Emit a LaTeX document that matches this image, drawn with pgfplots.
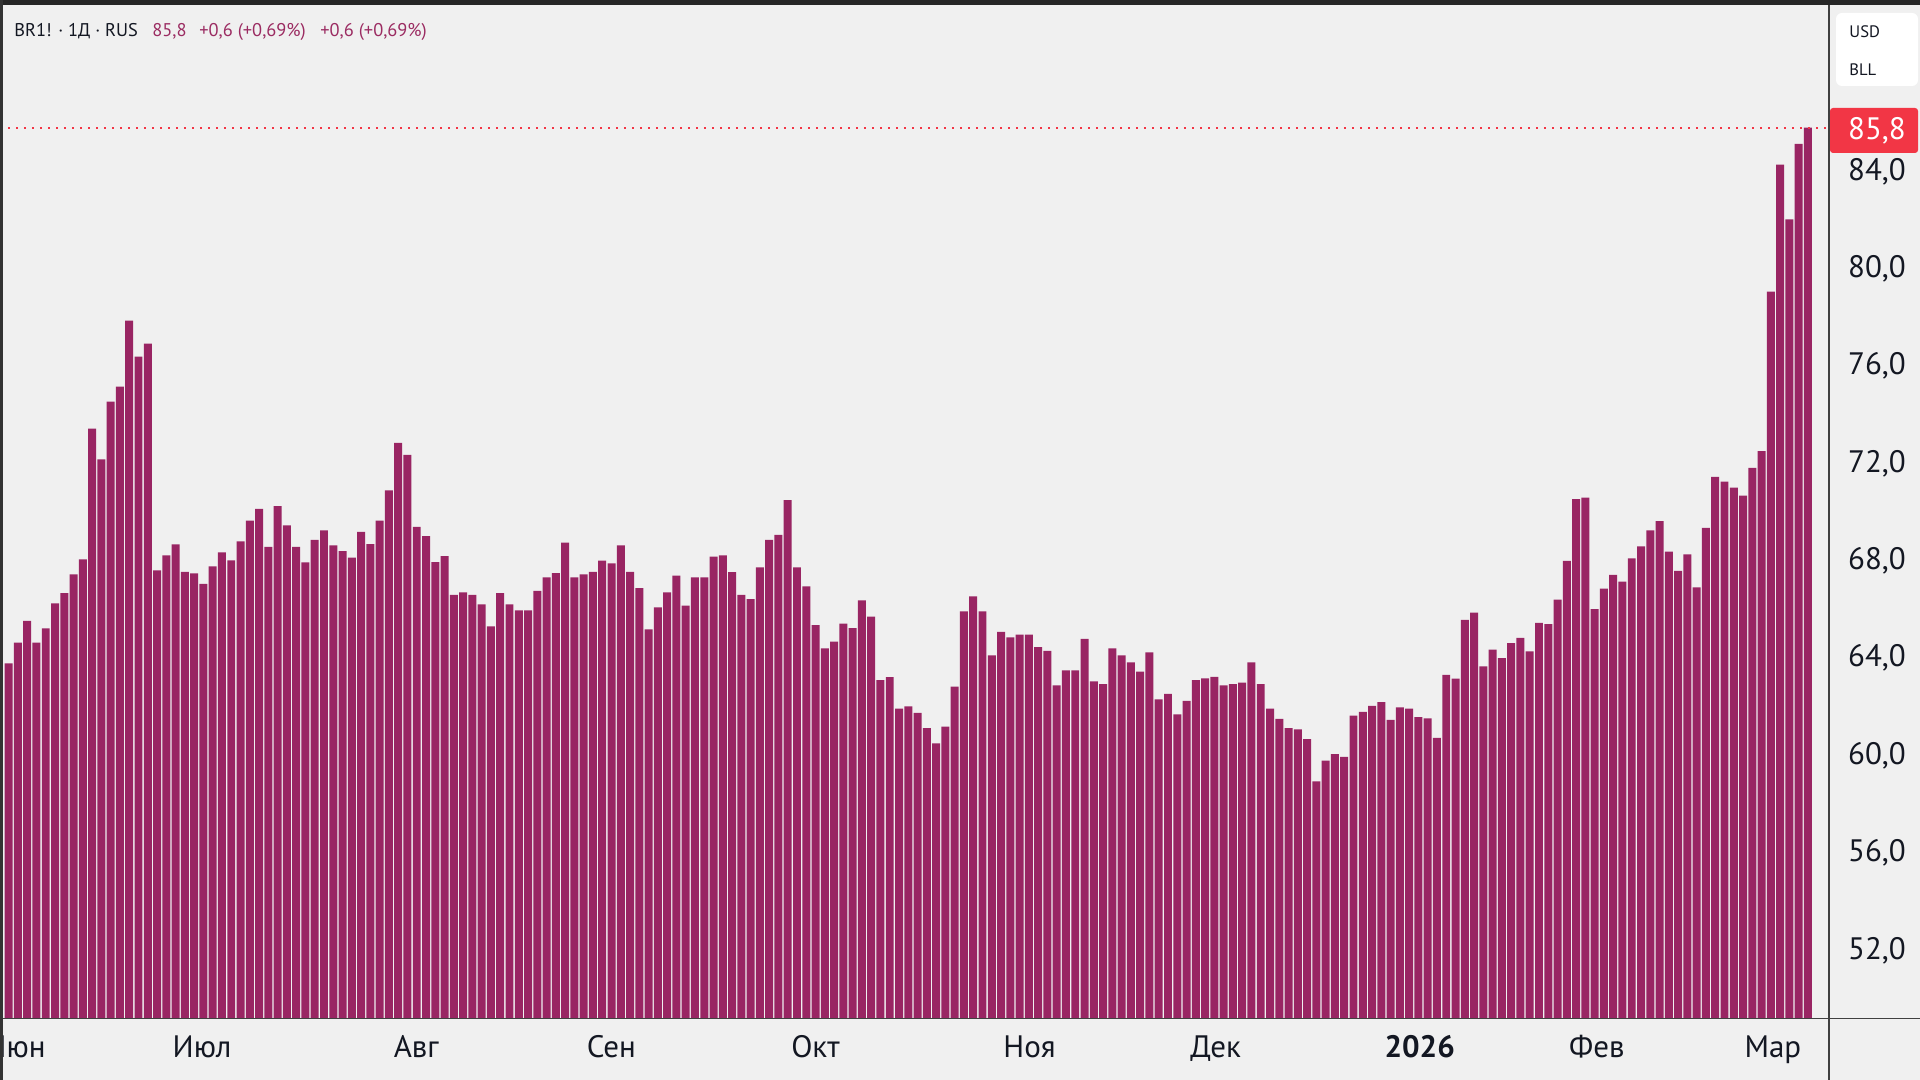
\documentclass[border=0pt]{standalone}
\usepackage{fontspec}
\setmainfont{PT Sans}
\usepackage{pgfplots}
\pgfplotsset{compat=1.18}
\definecolor{bgcol}{HTML}{F0F0F0}
\definecolor{barcol}{HTML}{992563}
\definecolor{hdrcol}{HTML}{9B2C62}
\definecolor{redlab}{HTML}{F23645}
\definecolor{txt}{HTML}{131722}
\begin{document}
\begin{tikzpicture}
\path[use as bounding box] (0,0) rectangle (960pt,540pt);
\clip (0,0) rectangle (960pt,540pt);
\fill[bgcol] (0,0) rectangle (960pt,540pt);
\begin{axis}[
  at={(0pt,30.85pt)}, anchor=south west,
  scale only axis, width=914.5pt, height=509.15pt,
  xmin=0.068, xmax=197.27, ymin=49.21, ymax=91.04,
  axis line style={draw=none},
  major tick length=0pt,
  ytick={52,56,60,64,68,72,76,80,84},
  yticklabel pos=right,
  yticklabel style={anchor=center, xshift=24pt, text=txt,
    font=\fontsize{15.5}{18}\selectfont,
    /pgf/number format/.cd, fixed, fixed zerofill, precision=1, use comma, assume math mode=true},
  xtick={1.74,21.86,44.95,65.98,87.99,111.07,131.14,153.14,172.23,191.22},
  xticklabels={Июн,Июл,Авг,Сен,Окт,Ноя,Дек,\textbf{2026},Фев,Мар},
  xticklabel style={anchor=base, yshift=-19.5pt, text=txt, font=\fontsize{15.5}{18}\selectfont},
  clip=true,
]
\addplot[ybar, bar width=0.86, fill=barcol, draw=none] coordinates {
(1,63.79) (2,64.64) (3,65.53) (4,64.64) (5,65.23) (6,66.25) (7,66.67) (8,67.45) (9,68.06) (10,73.43)
(11,72.17) (12,74.54) (13,75.16) (14,77.87) (15,76.39) (16,76.92) (17,67.61) (18,68.23) (19,68.68) (20,67.55)
(21,67.49) (22,67.05) (23,67.77) (24,68.35) (25,68.02) (26,68.80) (27,69.65) (28,70.14) (29,68.57) (30,70.25)
(31,69.46) (32,68.57) (33,67.94) (34,68.86) (35,69.25) (36,68.64) (37,68.40) (38,68.13) (39,69.19) (40,68.69)
(41,69.65) (42,70.90) (43,72.85) (44,72.35) (45,69.40) (46,69.02) (47,67.95) (48,68.19) (49,66.60) (50,66.71)
(51,66.60) (52,66.21) (53,65.31) (54,66.67) (55,66.21) (56,65.97) (57,65.97) (58,66.77) (59,67.32) (60,67.50)
(61,68.75) (62,67.32) (63,67.45) (64,67.55) (65,68.01) (66,67.90) (67,68.64) (68,67.55) (69,66.88) (70,65.19)
(71,66.09) (72,66.71) (73,67.39) (74,66.16) (75,67.32) (76,67.32) (77,68.17) (78,68.23) (79,67.54) (80,66.60)
(81,66.43) (82,67.73) (83,68.86) (84,69.07) (85,70.49) (86,67.73) (87,66.95) (88,65.36) (89,64.41) (90,64.68)
(91,65.42) (92,65.24) (93,66.38) (94,65.71) (95,63.10) (96,63.22) (97,61.93) (98,62.02) (99,61.76) (100,61.13)
(101,60.50) (102,61.19) (103,62.83) (104,65.93) (105,66.54) (106,65.93) (107,64.12) (108,65.08) (109,64.86) (110,64.97)
(111,64.97) (112,64.46) (113,64.30) (114,62.89) (115,63.50) (116,63.50) (117,64.80) (118,63.05) (119,62.94) (120,64.41)
(121,64.12) (122,63.83) (123,63.45) (124,64.24) (125,62.31) (126,62.54) (127,61.69) (128,62.25) (129,63.10) (130,63.17)
(131,63.23) (132,62.89) (133,62.94) (134,63.00) (135,63.83) (136,62.94) (137,61.93) (138,61.51) (139,61.13) (140,61.08)
(141,60.68) (142,58.94) (143,59.79) (144,60.06) (145,59.95) (146,61.64) (147,61.80) (148,62.04) (149,62.20) (150,61.47)
(151,61.98) (152,61.93) (153,61.58) (154,61.53) (155,60.73) (156,63.32) (157,63.16) (158,65.58) (159,65.87) (160,63.67)
(161,64.35) (162,64.01) (163,64.62) (164,64.84) (165,64.28) (166,65.45) (167,65.40) (168,66.41) (169,68.00) (170,70.54)
(171,70.60) (172,66.02) (173,66.86) (174,67.42) (175,67.15) (176,68.10) (177,68.60) (178,69.25) (179,69.63) (180,68.38)
(181,67.59) (182,68.27) (183,66.91) (184,69.36) (185,71.45) (186,71.25) (187,71.01) (188,70.68) (189,71.82) (190,72.51)
(191,79.06) (192,84.28) (193,82.03) (194,85.13) (195,85.80)
};
\draw[redlab, line width=1pt, dash pattern=on 1.2pt off 2.8pt] (axis cs:0.068,85.8) -- (axis cs:197.27,85.8);
\end{axis}
% frame lines
\draw[black!75, line width=0.7pt] (0,30.85pt) -- (960pt,30.85pt);
\draw[black!75, line width=0.7pt] (914.5pt,0) -- (914.5pt,540pt);
\fill[black!85] (0,537.7pt) rectangle (960pt,540pt);
\fill[black!80] (0,0) rectangle (1.5pt,540pt);
% price label
\fill[redlab, rounded corners=1.5pt] (915pt,463.5pt) rectangle (959pt,486pt);
\node[text=white, font=\fontsize{15.5}{18}\selectfont, anchor=center] at (938.5pt,474.75pt) {85,8};
% currency box
\fill[white, rounded corners=3pt] (918pt,497pt) rectangle (959pt,533.5pt);
\node[text=txt, font=\fontsize{8.3}{10}\selectfont, anchor=base west, inner sep=0pt] at (924.5pt,521.3pt) {USD};
\node[text=txt, font=\fontsize{8.3}{10}\selectfont, anchor=base west, inner sep=0pt] at (924.5pt,502pt) {BLL};
% header
\node[text=txt, font=\fontsize{9.2}{11}\selectfont, anchor=base west, inner sep=0pt] at (7pt,521.7pt) {BR1! · 1Д · RUS};
\node[text=hdrcol, font=\fontsize{9.2}{11}\selectfont, anchor=base west, inner sep=0pt] at (76pt,521.7pt) {85,8};
\node[text=hdrcol, font=\fontsize{9.2}{11}\selectfont, anchor=base west, inner sep=0pt] at (99.5pt,521.7pt) {+0,6 (+0,69\%)};
\node[text=hdrcol, font=\fontsize{9.2}{11}\selectfont, anchor=base west, inner sep=0pt] at (160pt,521.7pt) {+0,6 (+0,69\%)};
\end{tikzpicture}
\end{document}
